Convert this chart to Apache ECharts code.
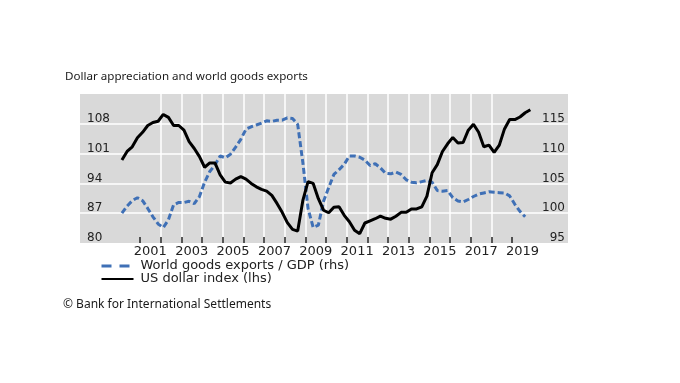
<!DOCTYPE html>
<html>
<head>
<meta charset="utf-8">
<script src="https://cdn.jsdelivr.net/npm/echarts@6/dist/echarts.min.js"></script>
<style>
html,body{margin:0;padding:0;background:#fff;}
#chart{width:680px;height:383px;}
</style>
</head>
<body>
<div id="chart"></div>
<script>
// ---- Data (quarterly, starting 2000 Q1) ----
const startYear = 2000;
const titleText = 'Dollar appreciation and world goods exports';
const sourceText = '\u00A9 Bank for International Settlements';
const seriesNames = ['World goods exports / GDP (rhs)', 'US dollar index (lhs)'];

// US dollar index (lhs)
const usdIndex = [
  99.5, 101.5, 102.6, 104.7,
  106.0, 107.6, 108.3, 108.6,
  110.2, 109.5, 107.6, 107.6,
  106.5, 103.8, 102.2, 100.3,
  97.8, 98.8, 98.8, 96.0,
  94.3, 94.1, 95.0, 95.6,
  95.0, 94.0, 93.2, 92.6,
  92.2, 91.2, 89.3, 87.2,
  84.8, 83.2, 82.8, 90.0,
  94.4, 94.0, 90.4, 87.7,
  87.1, 88.4, 88.5, 86.5,
  85.0, 83.0, 82.2, 84.7,
  85.2, 85.7, 86.3, 85.8,
  85.6, 86.3, 87.2, 87.2,
  88.0, 88.0, 88.5, 91.0,
  96.5, 98.4, 101.5, 103.3,
  104.8, 103.5, 103.6, 106.5,
  107.9, 106.0, 102.6, 103.0,
  101.3, 103.0, 106.8, 109.0,
  109.0, 109.6, 110.6, 111.3
];

// World goods exports / GDP (rhs)
const exportsGdp = [
  100.0, 101.2, 102.1, 102.6,
  102.1, 100.8, 99.4, 98.2,
  97.6, 98.9, 101.4, 101.8,
  101.8, 102.0, 101.6, 102.8,
  105.2, 107.0, 108.1, 109.6,
  109.3, 109.9, 111.1, 112.4,
  114.1, 114.5, 114.8, 115.1,
  115.5, 115.4, 115.6, 115.6,
  116.0, 115.9, 114.9, 108.5,
  100.8, 97.6, 98.0, 102.0,
  104.3, 106.5, 107.3, 108.2,
  109.6, 109.6, 109.4, 108.9,
  108.0, 108.3, 107.6, 106.7,
  106.6, 106.9, 106.5, 105.6,
  105.2, 105.1, 105.3, 105.5,
  105.2, 103.8, 103.7, 103.8,
  102.6, 102.05, 101.9, 102.3,
  102.8, 103.2, 103.4, 103.6,
  103.5, 103.45, 103.4, 102.9,
  101.5, 100.3, 99.4
];

// Axis ticks
const leftTicks = [80, 87, 94, 101, 108];
const rightTicks = [95, 100, 105, 110, 115];
const yearTicks = [2001,2002,2003,2004,2005,2006,2007,2008,2009,2010,2011,2012,2013,2014,2015,2016,2017,2018,2019];
const yearLabels = [2001,2003,2005,2007,2009,2011,2013,2015,2017,2019];

// ---- Chart ----
const toPairs = arr => arr.map((v, i) => [startYear + (i + 0.5) / 4, v]);
const blue = '#3f70b6';
const txt = '#222222';

const chart = echarts.init(document.getElementById('chart'), null, {renderer: 'canvas'});
chart.setOption({
  animation: false,
  backgroundColor: '#ffffff',
  title: [
    {text: titleText, left: 65, top: 70.5, padding: 0,
     textStyle: {fontSize: 11.6, fontWeight: 'normal', fontFamily: 'Noto Sans', color: '#1a1a1a'}},
    {text: sourceText, left: 63, top: 298.5, padding: 0,
     textStyle: {fontSize: 12, fontWeight: 'normal', fontFamily: 'Noto Sans', color: '#1a1a1a'}}
  ],
  legend: {
    orient: 'vertical', left: 100, top: 259.5, padding: 0,
    itemWidth: 32, itemHeight: 13, itemGap: 0,
    itemStyle: {opacity: 0, borderWidth: 0},
    textStyle: {fontSize: 13, fontFamily: 'DejaVu Sans', color: txt, lineHeight: 13, padding: [0,0,0,2]},
    data: [
      {name: seriesNames[0], lineStyle: {type: [10, 8], width: 3}},
      {name: seriesNames[1]}
    ]
  },
  grid: [
    {left: 80, top: 94, width: 488, height: 149, show: true, backgroundColor: '#d9d9d9', borderWidth: 0},
    {left: 119.32, top: 94, width: 413.6, height: 149}
  ],
  xAxis: [
    {gridIndex: 0, type: 'value', min: 0, max: 1, show: false},
    {gridIndex: 1, type: 'value', min: 2000, max: 2020, interval: 1,
     axisLine: {show: false},
     axisTick: {show: true, inside: true, length: 6, customValues: yearTicks,
                lineStyle: {color: txt, width: 1.5}},
     axisLabel: {customValues: yearLabels.map(y => y + 0.5), formatter: v => String(Math.floor(v)),
                 fontSize: 13, fontFamily: 'DejaVu Sans', color: txt, margin: 2},
     splitLine: {show: true, showMinLine: false, showMaxLine: false,
                 lineStyle: {color: '#ffffff', width: 1.5}}}
  ],
  yAxis: [
    {gridIndex: 0, type: 'value', position: 'left', min: leftTicks[0], max: 115, interval: 7,
     axisLine: {show: false}, axisTick: {show: false},
     axisLabel: {inside: true, margin: 7, showMaxLabel: false, fontSize: 12, fontFamily: 'DejaVu Sans',
                 color: txt, verticalAlign: 'bottom', lineHeight: 10,
                 formatter: v => leftTicks.indexOf(v) >= 0 ? String(v) : ''},
     splitLine: {show: true, showMinLine: false, showMaxLine: false, lineStyle: {color: '#ffffff', width: 1.5}}},
    {gridIndex: 0, type: 'value', position: 'right', min: rightTicks[0], max: 120, interval: 5,
     axisLine: {show: false}, axisTick: {show: false},
     axisLabel: {inside: true, margin: 3, showMaxLabel: false, fontSize: 12, fontFamily: 'DejaVu Sans',
                 color: txt, verticalAlign: 'bottom', lineHeight: 10,
                 formatter: v => rightTicks.indexOf(v) >= 0 ? String(v) : ''},
     splitLine: {show: false}},
    {gridIndex: 1, type: 'value', min: 80, max: 115, show: false},
    {gridIndex: 1, type: 'value', min: 95, max: 120, show: false}
  ],
  series: [
    {name: seriesNames[0], type: 'line', xAxisIndex: 1, yAxisIndex: 3, data: toPairs(exportsGdp),
     symbol: 'none', showSymbol: false, z: 3,
     itemStyle: {color: blue},
     lineStyle: {color: blue, width: 3, type: [6, 3]}},
    {name: seriesNames[1], type: 'line', xAxisIndex: 1, yAxisIndex: 2, data: toPairs(usdIndex),
     symbol: 'none', showSymbol: false, z: 4,
     itemStyle: {color: '#000000'},
     lineStyle: {color: '#000000', width: 3}}
  ]
});
</script>
</body>
</html>
